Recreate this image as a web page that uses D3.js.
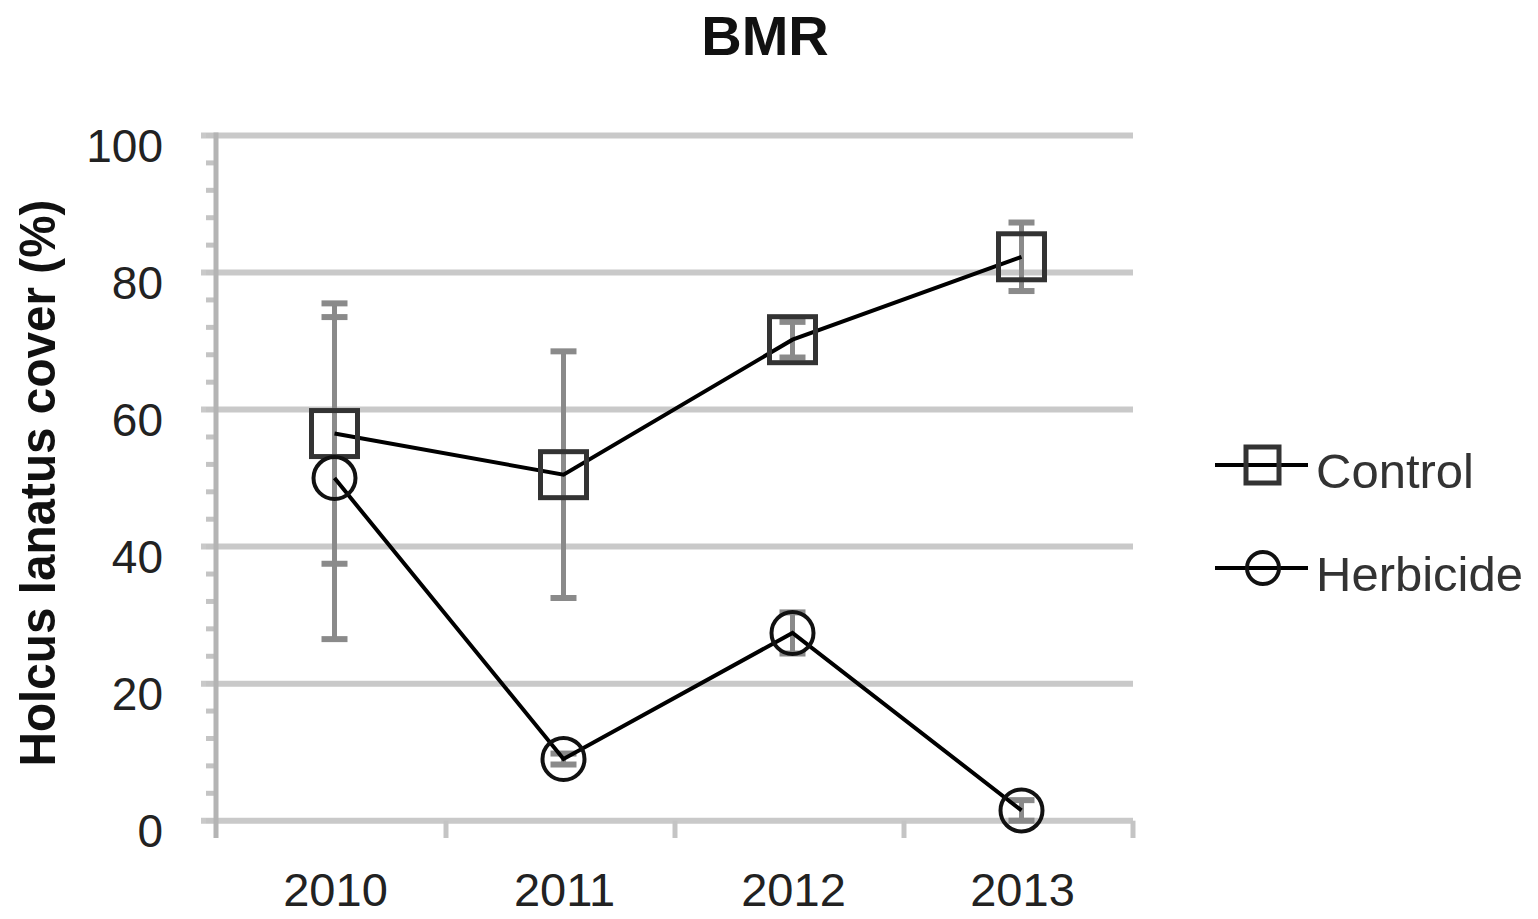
<!DOCTYPE html>
<html>
<head>
<meta charset="utf-8">
<script src="https://cdn.jsdelivr.net/npm/d3@7"></script>
<style>
  body { margin: 0; background: #fff; }
  text { font-family: "Liberation Sans", Arial, sans-serif; }
</style>
</head>
<body>
<script>
var years = ["2010", "2011", "2012", "2013"];
var controlValues = [56.5, 50.5, 70.2, 82.3];
var controlErrors = [19, 18, 2.6, 5];
var herbicideValues = [50, 9, 27.4, 1.5];
var herbicideErrors = [23.5, 0.8, 3, 1.5];
var yTicks = [0, 20, 40, 60, 80, 100];
var yMinorTicks = d3.range(0, 101, 4);

var width = 1538, height = 919;

var svg = d3.select("body").append("svg")
    .attr("width", width)
    .attr("height", height);

var x = d3.scaleBand().domain(years).range([217, 1133]);
var y = d3.scaleLinear().domain([0, 100]).range([820.7, 135.5]);

var series = [
  { name: "Control", values: controlValues, errors: controlErrors, marker: "square" },
  { name: "Herbicide", values: herbicideValues, errors: herbicideErrors, marker: "circle" }
];

// title
svg.append("text")
    .attr("x", 765)
    .attr("y", 55)
    .attr("text-anchor", "middle")
    .style("font-size", "56px")
    .style("font-weight", "bold")
    .style("fill", "#111")
    .text("BMR");

// gridlines
svg.selectAll(".grid").data(yTicks).enter().append("line")
    .attr("class", "grid")
    .attr("x1", 201).attr("x2", 1133)
    .attr("y1", d => y(d)).attr("y2", d => y(d))
    .style("stroke", "#c9c9c9")
    .style("stroke-width", 6);

// minor ticks on y axis
svg.selectAll(".minor").data(yMinorTicks).enter().append("line")
    .attr("class", "minor")
    .attr("x1", 206).attr("x2", 216)
    .attr("y1", d => y(d)).attr("y2", d => y(d))
    .style("stroke", "#c4c4c4")
    .style("stroke-width", 5);

// y axis line
svg.append("line")
    .attr("x1", 216).attr("x2", 216)
    .attr("y1", y(100) - 3).attr("y2", 838)
    .style("stroke", "#b4b4b4")
    .style("stroke-width", 5);

// x ticks at band edges
var xEdges = years.map(d => x(d)).concat([x.range()[1]]);
svg.selectAll(".xtick").data(xEdges.slice(1)).enter().append("line")
    .attr("class", "xtick")
    .attr("x1", d => d).attr("x2", d => d)
    .attr("y1", y(0)).attr("y2", 838)
    .style("stroke", "#c4c4c4")
    .style("stroke-width", 5);

// y tick labels
svg.selectAll(".ylabel").data(yTicks).enter().append("text")
    .attr("class", "ylabel")
    .attr("x", 163)
    .attr("y", d => y(d) + 26)
    .attr("text-anchor", "end")
    .style("font-size", "46px")
    .style("fill", "#222")
    .text(d => d);

// x tick labels
svg.selectAll(".xlabel").data(years).enter().append("text")
    .attr("class", "xlabel")
    .attr("x", d => x(d) + x.bandwidth() / 2 + 4)
    .attr("y", 906)
    .attr("text-anchor", "middle")
    .style("font-size", "47px")
    .style("fill", "#222")
    .text(d => d);

// y axis title
svg.append("text")
    .attr("transform", "translate(55,483) rotate(-90)")
    .attr("text-anchor", "middle")
    .attr("textLength", 567)
    .attr("lengthAdjust", "spacingAndGlyphs")
    .style("font-size", "50px")
    .style("font-weight", "bold")
    .style("fill", "#111")
    .text("Holcus lanatus cover (%)");

var cx = (d, i) => x(years[i]) + x.bandwidth() / 2 + 3;

// error bars
series.forEach(function(s) {
  var g = svg.append("g").attr("class", "err");
  s.values.forEach(function(v, i) {
    var px = cx(v, i), e = s.errors[i];
    g.append("line")
        .attr("x1", px).attr("x2", px)
        .attr("y1", y(v + e)).attr("y2", y(v - e))
        .style("stroke", "#8a8a8a").style("stroke-width", 5);
    [v + e, v - e].forEach(function(c) {
      g.append("line")
          .attr("x1", px - 13).attr("x2", px + 13)
          .attr("y1", y(c)).attr("y2", y(c))
          .style("stroke", "#8a8a8a").style("stroke-width", 6);
    });
  });
});

var line = d3.line()
    .x((d, i) => cx(d, i))
    .y(d => y(d));

series.forEach(function(s) {
  svg.append("path")
      .datum(s.values)
      .attr("d", line)
      .style("fill", "none")
      .style("stroke", "#000")
      .style("stroke-width", 4);

  if (s.marker === "square") {
    svg.selectAll(".sq").data(s.values).enter().append("rect")
        .attr("x", (d, i) => cx(d, i) - 23)
        .attr("y", d => y(d) - 23)
        .attr("width", 46).attr("height", 46)
        .style("fill", "none")
        .style("stroke", "#333")
        .style("stroke-width", 5);
  } else {
    svg.selectAll(".ci").data(s.values).enter().append("circle")
        .attr("cx", (d, i) => cx(d, i))
        .attr("cy", d => y(d))
        .attr("r", 21)
        .style("fill", "none")
        .style("stroke", "#111")
        .style("stroke-width", 4);
  }
});

// legend
var legend = svg.append("g");
series.forEach(function(s, i) {
  var ly = 465 + i * 103;
  legend.append("line")
      .attr("x1", 1215).attr("x2", 1308)
      .attr("y1", ly).attr("y2", ly)
      .style("stroke", "#000").style("stroke-width", 4);
  if (s.marker === "square") {
    legend.append("rect")
        .attr("x", 1246).attr("y", ly - 18)
        .attr("width", 33).attr("height", 36)
        .style("fill", "none").style("stroke", "#333").style("stroke-width", 5);
  } else {
    legend.append("circle")
        .attr("cx", 1263).attr("cy", ly)
        .attr("r", 16)
        .style("fill", "none").style("stroke", "#111").style("stroke-width", 4);
  }
  legend.append("text")
      .attr("x", 1316)
      .attr("y", ly + 23)
      .style("font-size", "49px")
      .style("fill", "#333")
      .text(s.name);
});
</script>
</body>
</html>
